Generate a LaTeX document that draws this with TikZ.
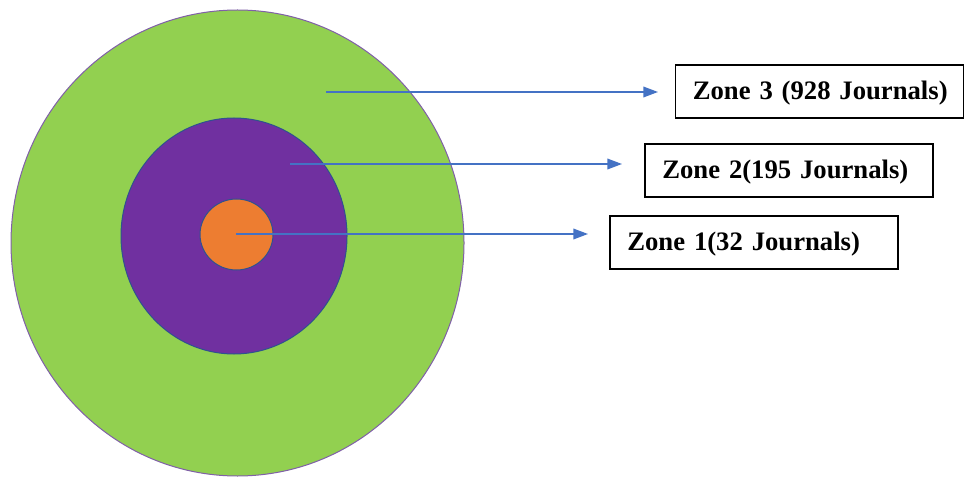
\documentclass[tikz,border=0pt]{standalone}
\usepackage{fontspec}
\setmainfont{Liberation Serif}
\usetikzlibrary{arrows.meta}

\tikzset{
  zonebox/.style={draw, line width=0.9pt, text width=190pt, inner xsep=13pt, inner ysep=0.75pt,
    text height=13pt, text depth=0.5pt,
    minimum height=39.75pt, align=left, font=\fontsize{20}{24}\selectfont\bfseries},
  zonearrow/.style={color={rgb, 255:red, 68; green, 114; blue, 196 }, line width=1.1pt,
    -{Triangle[length=11pt,width=8pt]}}
}

\begin{document}
\begin{tikzpicture}[x=0.75pt,y=0.75pt,yscale=-1,xscale=1]
\useasboundingbox (0,0) rectangle (966,477);

%Shape: Ellipse (zone 3)
\draw [color={rgb, 255:red, 128; green, 96; blue, 168 }, line width=0.75, fill={rgb, 255:red, 146; green, 208; blue, 80 }] (237.5,243) ellipse (226.5 and 233);
%Shape: Ellipse (zone 2)
\draw [color={rgb, 255:red, 47; green, 82; blue, 143 }, line width=0.75, fill={rgb, 255:red, 112; green, 48; blue, 160 }] (234,236) ellipse (113 and 118);
%Shape: Ellipse (zone 1)
\draw [color={rgb, 255:red, 47; green, 82; blue, 143 }, line width=0.75, fill={rgb, 255:red, 237; green, 125; blue, 49 }] (236.5,234.5) ellipse (36.5 and 35.5);

% Text Node
\node [zonebox] (zthree) at (819.5,91.5) {\mbox{Zone 3 (928 Journals)}};
% Text Node
\node [zonebox] (ztwo) at (789,170.5) {\mbox{Zone 2(195 Journals)}};
% Text Node
\node [zonebox] (zone) at (754,242.5) {\mbox{Zone 1(32 Journals)}};

\coordinate (sthree) at (326,92);
\coordinate (ethree) at (658,92);
\coordinate (stwo) at (290,164);
\coordinate (etwo) at (622,164);
\coordinate (sone) at (236,234);
\coordinate (eone) at (588,234);

%Straight Lines
\draw [zonearrow] (sthree) -- (ethree);
\draw [zonearrow] (stwo) -- (etwo);
\draw [zonearrow] (sone) -- (eone);

\end{tikzpicture}
\end{document}
